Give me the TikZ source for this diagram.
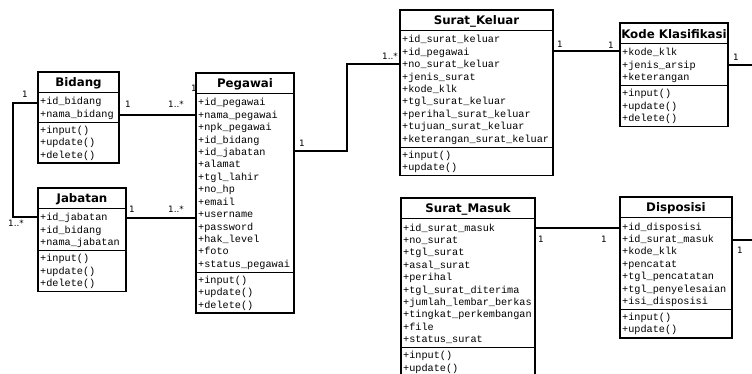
\documentclass[tikz,border=0pt]{standalone}
\usepackage{fontspec}
\setmainfont{DejaVu Sans}
\setmonofont{Liberation Mono}
\newfontfamily\titlefont{DejaVu Sans}
\tikzset{
  clsbox/.style={draw=black, line width=1.4pt, fill=white, inner sep=0pt, outer sep=0pt, rectangle},
  clstitle/.style={font=\titlefont\bfseries\fontsize{11.8}{13}\selectfont, inner sep=0pt},
  sepline/.style={draw=black, line width=1pt},
  attr/.style={font=\ttfamily\fontsize{10.2}{12}\selectfont, anchor=base west, inner sep=0pt},
  conn/.style={draw=black, line width=1.4pt},
  lbl/.style={font=\fontsize{8.8}{10}\selectfont, inner sep=0pt},
}
\newcommand\umlclass[7]{%
  \foreach \txt [count=\i] in {#6} {\xdef\umlna{\i}}%
  \foreach \txt [count=\i] in {#7} {\xdef\umlnm{\i}}%
  \pgfmathsetmacro\umlha{17+(\umlna-1)*12.4}%
  \pgfmathsetmacro\umlhm{16+(\umlnm-1)*12.4}%
  \pgfmathsetmacro\umlht{21+\umlha+\umlhm}%
  \node[clsbox, minimum width=#4pt, minimum height=\umlht pt, anchor=north west] (#1) at (#2,#3) {};
  \node[clstitle] (#1-t) at ({#2+#4/2},{#3+11}) {#5};
  \draw[sepline] ([shift={(0,21)}]#1.north west) -- ([shift={(0,21)}]#1.north east);
  \draw[sepline] ([shift={(0,21+\umlha)}]#1.north west) -- ([shift={(0,21+\umlha)}]#1.north east);
  \foreach \txt [count=\i] in {#6} \node[attr] (#1-a\i) at ({#2+2},{#3+21+12+(\i-1)*12.4}) {\txt};
  \foreach \txt [count=\i] in {#7} \node[attr] (#1-m\i) at ({#2+2},{#3+21+\umlha+11+(\i-1)*12.4}) {\txt};
}
\begin{document}
\begin{tikzpicture}[x=1pt,y=-1pt]
\useasboundingbox (0,0) rectangle (752,374);
\clip (0,0) rectangle (752,374);
\fill[white] (0,0) rectangle (752,374);

\node[lbl] (lpg) at (194,88) {1};

\umlclass{bidang}{38}{72}{81}{Bidang}{+id\_bidang,+nama\_bidang}{+input(),+update(),+delete()}
\umlclass{jabatan}{38}{188}{88}{Jabatan}{+id\_jabatan,+id\_bidang,+nama\_jabatan}{+input(),+update(),+delete()}
\umlclass{pegawai}{196}{73}{98}{Pegawai}{+id\_pegawai,+nama\_pegawai,+npk\_pegawai,+id\_bidang,+id\_jabatan,+alamat,+tgl\_lahir,+no\_hp,+email,+username,+password,+hak\_level,+foto,+status\_pegawai}{+input(),+update(),+delete()}
\umlclass{keluar}{400}{10}{153}{Surat\_Keluar}{+id\_surat\_keluar,+id\_pegawai,+no\_surat\_keluar,+jenis\_surat,+kode\_klk,+tgl\_surat\_keluar,+perihal\_surat\_keluar,+tujuan\_surat\_keluar,+keterangan\_surat\_keluar}{+input(),+update()}
\umlclass{kode}{620}{23}{108}{Kode Klasifikasi}{+kode\_klk,+jenis\_arsip,+keterangan}{+input(),+update(),+delete()}
\umlclass{masuk}{401}{198}{134}{Surat\_Masuk}{+id\_surat\_masuk,+no\_surat,+tgl\_surat,+asal\_surat,+perihal,+tgl\_surat\_diterima,+jumlah\_lembar\_berkas,+tingkat\_perkembangan,+file,+status\_surat}{+input(),+update()}
\umlclass{disposisi}{620}{197}{112}{Disposisi}{+id\_disposisi,+id\_surat\_masuk,+kode\_klk,+pencatat,+tgl\_pencatatan,+tgl\_penyelesaian,+isi\_disposisi}{+input(),+update()}

\coordinate (kodeend) at (752,65);
\coordinate (dispend) at (752,240);

% connectors
\draw[conn] ([shift={(0,31)}]bidang.north west) -- ++(-25,0) |- ([shift={(0,29)}]jabatan.north west);
\draw[conn] ([shift={(0,43)}]bidang.north east) coordinate (b1) -- (b1 -| pegawai.west);
\draw[conn] ([shift={(0,30)}]jabatan.north east) coordinate (j1) -- (j1 -| pegawai.west);
\draw[conn] ([shift={(0,78)}]pegawai.north east) -- ++(53,0) |- ([shift={(0,54)}]keluar.north west);
\draw[conn] ([shift={(0,41)}]keluar.north east) coordinate (k1) -- (k1 -| kode.west);
\draw[conn] (kodeend -| kode.east) -- (kodeend);
\draw[conn] ([shift={(0,30)}]masuk.north east) coordinate (m1) -- (m1 -| disposisi.west);
\draw[conn] (dispend -| disposisi.east) -- (dispend);

% multiplicities
\node[lbl] (l1) at (25,94) {1};
\node[lbl] (l2) at (16,223) {1..*};
\node[lbl] (l3) at (128,104) {1};
\node[lbl] (l4) at (176,104) {1..*};
\node[lbl] (l5) at (132,209) {1};
\node[lbl] (l6) at (176,209) {1..*};
\node[lbl] (l7) at (302,143) {1};
\node[lbl] (l8) at (390,56) {1..*};
\node[lbl] (l9) at (560,44) {1};
\node[lbl] (l10) at (611,45) {1};
\node[lbl] (l11) at (736,57) {1};
\node[lbl] (l12) at (541,239) {1};
\node[lbl] (l13) at (604,239) {1};
\node[lbl] (l14) at (740,250) {1};
\end{tikzpicture}
\end{document}
